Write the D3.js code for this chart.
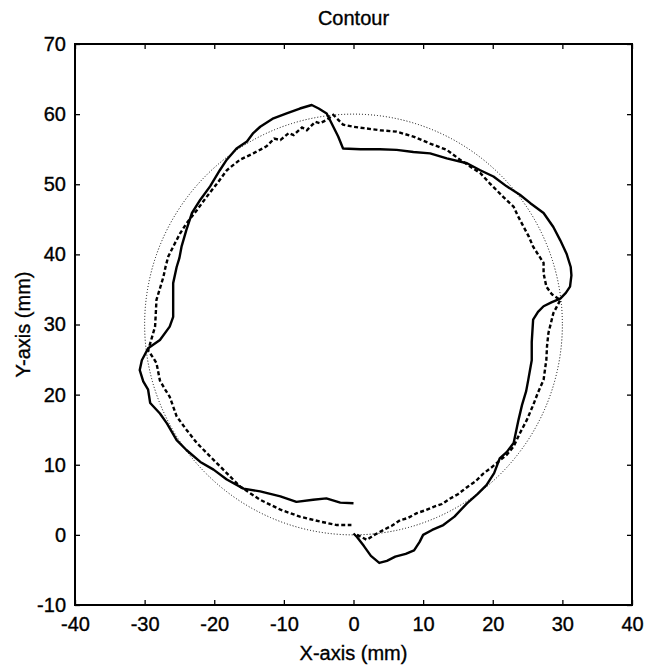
<!DOCTYPE html>
<html>
<head>
<meta charset="utf-8">
<script src="https://cdn.jsdelivr.net/npm/d3@7"></script>
<style>
  html, body { margin: 0; padding: 0; background: #fff; }
  text { font-family: "Liberation Sans", Arial, Helvetica, sans-serif; fill: #000; stroke: #000; stroke-width: 0.35px; }
</style>
</head>
<body>
<svg id="chart" width="645" height="668"></svg>
<script>
// Axis ticks
const xTicks = [-40, -30, -20, -10, 0, 10, 20, 30, 40];
const yTicks = [-10, 0, 10, 20, 30, 40, 50, 60, 70];

// Reference circle: centre (x, y) and radius in mm
const refCenter = [0, 30];
const refRadius = 30;

// Measured contour, run 1 (solid)
const solidX = [0.0, 0.5, 1.5, 2.5, 3.7, 4.8, 6.0, 7.5, 8.7, 9.5, 10.0, 11.3, 12.9, 14.5, 16.3, 17.8, 19.1, 20.2, 21.0, 22.0, 23.0, 23.7, 24.2, 24.8, 25.1, 25.6, 25.6, 25.8, 26.5, 27.3, 28.5, 29.7, 30.5, 31.1, 31.3, 31.2, 30.6, 29.7, 28.7, 27.3, 25.4, 23.9, 22.0, 20.1, 18.2, 16.3, 13.4, 11.0, 8.6, 6.2, 3.8, 1.0, -1.5, -2.2, -2.9, -3.85, -5.0, -6.0, -7.7, -9.6, -11.5, -13.4, -14.4, -15.3, -16.8, -18.2, -19.2, -20.6, -22.0, -23.2, -24.0, -24.7, -25.0, -25.4, -25.9, -25.9, -25.9, -26.4, -27.8, -29.5, -30.4, -30.7, -30.2, -29.5, -29.2, -27.8, -26.8, -25.4, -24.0, -22.0, -20.1, -18.2, -15.8, -13.4, -10.5, -8.2, -5.8, -3.9, -1.9, 0.0];
const solidY = [0.2, -0.3, -1.6, -3.0, -4.0, -3.7, -3.1, -2.7, -2.2, -1.0, 0.0, 0.7, 1.4, 2.6, 4.5, 5.8, 7.1, 8.8, 10.9, 11.8, 13.1, 16.4, 18.5, 20.5, 22.1, 24.9, 27.5, 30.7, 31.8, 32.6, 33.2, 33.7, 34.5, 35.4, 37.0, 38.2, 40.1, 42.0, 43.9, 45.9, 47.3, 48.5, 49.7, 51.1, 52.0, 53.0, 53.7, 54.4, 54.6, 54.9, 55.0, 55.0, 55.1, 56.8, 58.2, 60.1, 60.8, 61.3, 60.8, 60.1, 59.4, 58.2, 57.3, 56.1, 55.1, 53.5, 52.0, 49.7, 47.8, 45.9, 43.5, 41.1, 39.5, 38.2, 35.9, 33.5, 31.1, 29.7, 27.8, 26.6, 24.9, 23.5, 21.9, 20.7, 18.8, 17.3, 15.9, 13.5, 12.1, 10.4, 9.3, 7.9, 6.6, 6.2, 5.5, 4.7, 5.0, 5.2, 4.6, 4.5];

// Measured contour, run 2 (dashed)
const dashedX = [0.5, 1.9, 3.0, 4.3, 5.5, 6.7, 7.8, 9.1, 10.3, 11.5, 12.7, 13.9, 15.0, 16.3, 17.5, 18.6, 19.8, 21.0, 22.0, 23.0, 23.9, 24.9, 25.8, 26.5, 27.3, 27.7, 27.8, 28.0, 28.7, 29.7, 28.5, 27.7, 27.3, 27.3, 26.5, 25.8, 25.2, 24.4, 23.6, 23.0, 21.5, 19.6, 18.2, 16.8, 15.3, 13.4, 11.0, 8.6, 6.2, 3.8, 1.5, 0.0, -1.5, -2.9, -3.8, -4.8, -5.5, -6.7, -7.4, -8.6, -9.3, -10.5, -11.4, -12.5, -14.4, -16.3, -18.2, -19.6, -21.1, -22.5, -24.0, -24.9, -25.9, -26.6, -27.0, -27.3, -28.3, -28.4, -28.5, -29.2, -29.5, -28.8, -28.3, -27.8, -27.1, -26.4, -25.4, -24.0, -22.5, -20.6, -18.7, -16.3, -13.4, -10.5, -7.7, -4.8, -2.4, -0.3];
const dashedY = [0.0, -0.7, 0.0, 0.7, 1.3, 2.1, 2.4, 3.1, 3.5, 4.0, 4.4, 5.2, 5.8, 6.8, 7.6, 8.7, 9.6, 10.6, 11.4, 12.6, 14.5, 16.4, 18.5, 20.3, 22.1, 25.0, 27.0, 28.8, 31.6, 33.5, 34.3, 35.4, 37.3, 38.8, 40.0, 41.1, 42.5, 44.0, 45.5, 46.8, 48.2, 50.1, 51.6, 52.5, 53.5, 54.9, 55.8, 56.8, 57.5, 57.7, 58.0, 58.2, 58.5, 59.9, 59.2, 58.7, 58.9, 57.7, 58.1, 57.0, 57.3, 56.3, 56.5, 55.4, 54.4, 53.5, 52.0, 50.1, 48.2, 46.3, 44.4, 43.0, 41.1, 39.7, 38.2, 36.8, 33.5, 31.5, 29.7, 27.3, 26.3, 25.3, 24.5, 22.0, 20.8, 19.7, 16.9, 15.0, 13.1, 11.2, 9.3, 6.9, 5.0, 3.6, 2.6, 1.9, 1.4, 1.4];

const svg = d3.select("#chart");
const plotLeft = 75, plotRight = 632, plotTop = 44, plotBottom = 605;

const x = d3.scaleLinear().domain([-40, 40]).range([plotLeft, plotRight]);
const y = d3.scaleLinear().domain([-10, 70]).range([plotBottom, plotTop]);

// Reference circle (thin dotted)
svg.append("ellipse")
  .attr("cx", x(refCenter[0]))
  .attr("cy", y(refCenter[1]))
  .attr("rx", x(refCenter[0] + refRadius) - x(refCenter[0]))
  .attr("ry", y(refCenter[1] - refRadius) - y(refCenter[1]))
  .attr("fill", "none")
  .attr("stroke", "#000")
  .attr("stroke-width", 1)
  .attr("stroke-dasharray", "1,2");

const line = d3.line().x(d => x(d[0])).y(d => y(d[1]));

svg.append("path")
  .datum(solidX.map((v, i) => [v, solidY[i]]))
  .attr("d", line)
  .attr("fill", "none")
  .attr("stroke", "#000")
  .attr("stroke-width", 2.4)
  .attr("stroke-linejoin", "round");

svg.append("path")
  .datum(dashedX.map((v, i) => [v, dashedY[i]]))
  .attr("d", line)
  .attr("fill", "none")
  .attr("stroke", "#000")
  .attr("stroke-width", 2.4)
  .attr("stroke-dasharray", "4,2.5");

// Boxed axes with inward ticks on all four sides
const tickLen = 5;
const fmt = d => String(d);
const axisBottom = d3.axisBottom(x).tickValues(xTicks).tickSizeInner(-tickLen).tickSizeOuter(0).tickPadding(12).tickFormat(fmt);
const axisTop = d3.axisTop(x).tickValues(xTicks).tickSizeInner(-tickLen).tickSizeOuter(0).tickFormat("");
const axisLeft = d3.axisLeft(y).tickValues(yTicks).tickSizeInner(-tickLen).tickSizeOuter(0).tickPadding(9).tickFormat(fmt);
const axisRight = d3.axisRight(y).tickValues(yTicks).tickSizeInner(-tickLen).tickSizeOuter(0).tickFormat("");

function styleAxis(g) {
  g.select(".domain").remove();
  g.selectAll(".tick line").attr("stroke", "#000").attr("stroke-width", 1.3);
  g.selectAll(".tick text").style("font-size", "20px").attr("fill", "#000");
}

svg.append("g").attr("transform", `translate(0,${plotBottom})`).call(axisBottom).call(styleAxis);
svg.append("g").attr("transform", `translate(0,${plotTop})`).call(axisTop).call(styleAxis);
svg.append("g").attr("transform", `translate(${plotLeft},0)`).call(axisLeft).call(styleAxis);
svg.append("g").attr("transform", `translate(${plotRight},0)`).call(axisRight).call(styleAxis);

svg.append("rect")
  .attr("x", plotLeft).attr("y", plotTop)
  .attr("width", plotRight - plotLeft).attr("height", plotBottom - plotTop)
  .attr("fill", "none").attr("stroke", "#000").attr("stroke-width", 2);

// Titles
svg.append("text")
  .attr("x", (plotLeft + plotRight) / 2).attr("y", 25)
  .attr("text-anchor", "middle").style("font-size", "20px")
  .text("Contour");

svg.append("text")
  .attr("x", (plotLeft + plotRight) / 2).attr("y", 660)
  .attr("text-anchor", "middle").style("font-size", "20px")
  .text("X-axis (mm)");

svg.append("text")
  .attr("transform", `translate(30,${(plotTop + plotBottom) / 2}) rotate(-90)`)
  .attr("text-anchor", "middle").style("font-size", "20px")
  .text("Y-axis (mm)");
</script>
</body>
</html>
